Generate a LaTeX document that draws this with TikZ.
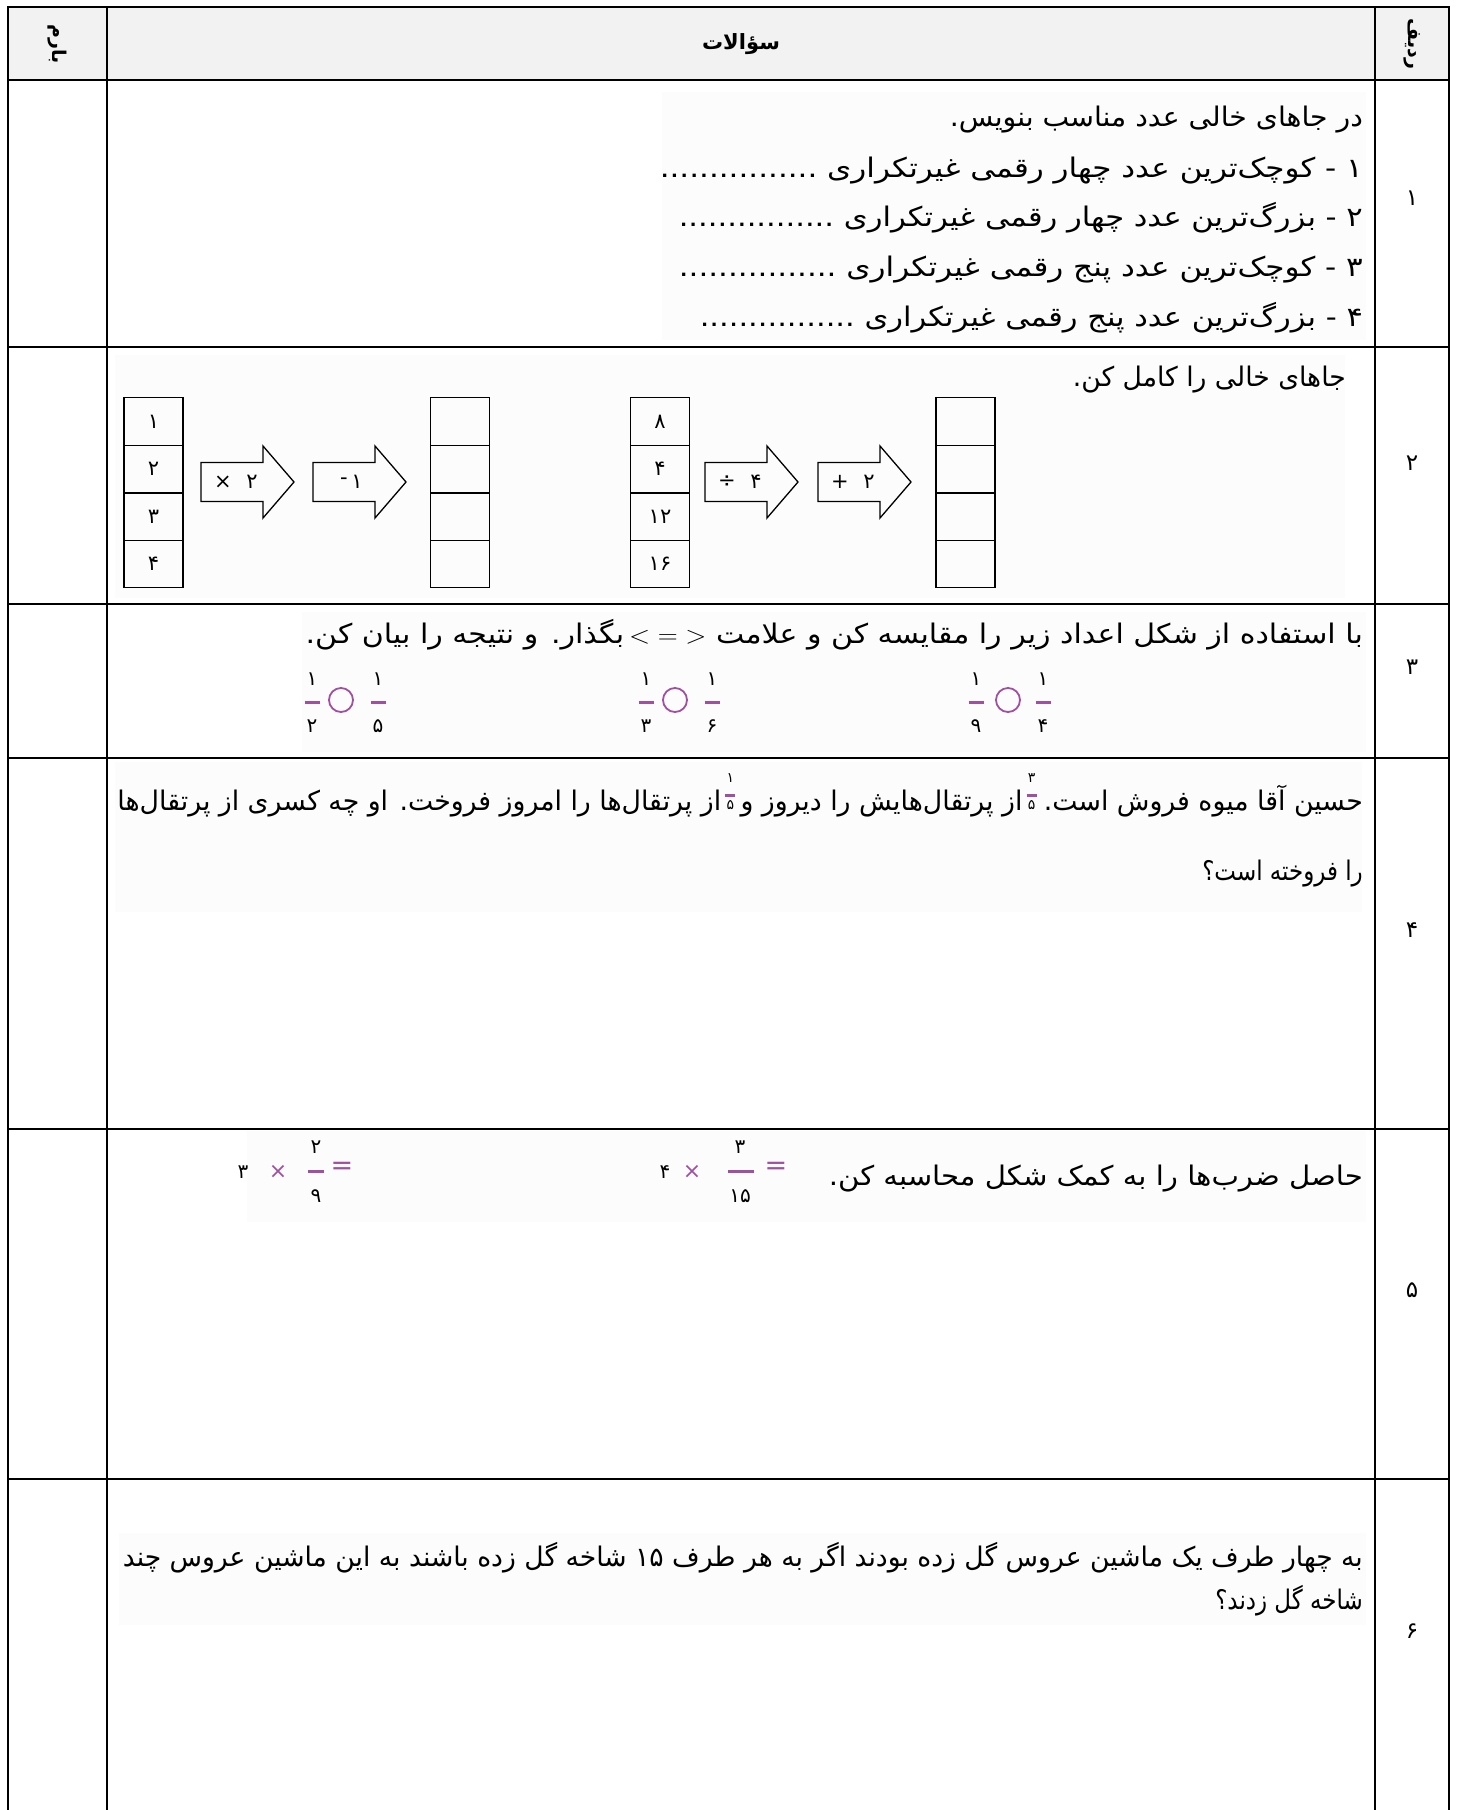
\documentclass[tikz,border=0pt]{standalone}
\usepackage{fontspec}
\usetikzlibrary{calc}
\TeXXeTstate=1
\newfontfamily\fa[Script=Arabic]{DejaVu Sans}
\newfontfamily\fanum[Script=Arabic]{DejaVu Sans}
\definecolor{purp}{RGB}{160,80,160}
\definecolor{hdr}{RGB}{242,242,242}
\definecolor{imgbg}{RGB}{252,252,252}
\newcommand\fitw[2]{\resizebox{#1pt}{\height}{#2}}
\newcommand\qfont{\fa\fontsize{27}{31}\selectfont}
\begin{document}
\begin{tikzpicture}[x=1pt,y=-1pt,
  qtext/.style={anchor=base east, inner sep=0pt, font=\qfont},
  rownum/.style={inner sep=0pt, font=\fanum\fontsize{23}{23}\selectfont},
  hlab/.style={inner sep=0pt, rotate=-90, font=\fanum\bfseries\fontsize{19}{19}\selectfont},
  cellbox/.style={draw, line width=1.4pt, minimum width=59pt, minimum height=47.5pt, inner sep=0pt},
  alab/.style={inner sep=0pt, font=\fanum\fontsize{21}{21}\selectfont},
  fnum/.style={inner sep=0pt, font=\fanum\fontsize{20}{20}\selectfont},
  snum/.style={inner sep=0pt, font=\fanum\fontsize{14}{14}\selectfont},
  pcirc/.style={draw=purp, circle, line width=1.8pt, minimum size=24pt, inner sep=0pt},
  psym/.style={inner sep=0pt, text=purp, font=\fanum\fontsize{22}{22}\selectfont},
  peq/.style={inner sep=0pt, text=purp, font=\fanum\fontsize{27}{27}\selectfont},
  pbar/.style={purp, line width=3pt},
  fatarrow/.pic={\draw[line width=1.3pt, line join=miter] (0,-19.5) -- (62,-19.5) -- (62,-36) -- (93,0) -- (62,36) -- (62,19.5) -- (0,19.5) -- cycle;},
  grid/.style={line width=2.2pt}
]
\useasboundingbox (0,0) rectangle (1459,1810);
\fill[white] (0,0) rectangle (1459,1810);
% header background
\fill[hdr] (8,7) rectangle (1449,80);
% faint image backgrounds
\fill[imgbg] (662,92) rectangle (1366,340);
\fill[imgbg] (115,355) rectangle (1345,598);
\fill[imgbg] (302,612) rectangle (1366,752);
\fill[imgbg] (115,762) rectangle (1362,912);
\fill[imgbg] (247,1131) rectangle (1366,1222);
\fill[imgbg] (119,1533) rectangle (1366,1625);
% grid
\draw[grid] (8,1810) -- (8,7) -- (1449,7) -- (1449,1810);
\draw[grid] (107,7) -- (107,1810);
\draw[grid] (1375,7) -- (1375,1810);
\foreach \yy in {80,347,604,758,1129,1479} \draw[grid] (8,\yy) -- (1449,\yy);
% header
\node[inner sep=0pt, font=\fanum\bfseries\fontsize{21}{21}\selectfont] (hq) at (741,44) {\beginR سؤالات\endR};
\node[hlab] (hb) at (57,44) {\beginR بارم\endR};
\node[hlab] (hr) at (1412,44) {\beginR ردیف\endR};
% row numbers
\node[rownum] (n1) at (1412,198) {۱};
\node[rownum] (n2) at (1412,463) {۲};
\node[rownum] (n3) at (1412,667) {۳};
\node[rownum] (n4) at (1412,930) {۴};
\node[rownum] (n5) at (1412,1290) {۵};
\node[rownum] (n6) at (1412,1631) {۶};
% row 1
\node[qtext] (q1a) at (1363,126) {\fitw{413}{\beginR در جاهای خالی عدد مناسب بنویس.\endR}};
\node[qtext] (q1b) at (1363,177) {\fitw{703}{\beginR ۱ - کوچک‌ترین عدد چهار رقمی غیرتکراری ................\endR}};
\node[qtext] (q1c) at (1363,226) {\fitw{684}{\beginR ۲ - بزرگ‌ترین عدد چهار رقمی غیرتکراری ................\endR}};
\node[qtext] (q1d) at (1363,276) {\fitw{684}{\beginR ۳ - کوچک‌ترین عدد پنج رقمی غیرتکراری ................\endR}};
\node[qtext] (q1e) at (1363,326) {\fitw{663}{\beginR ۴ - بزرگ‌ترین عدد پنج رقمی غیرتکراری ................\endR}};
% row 2
\node[qtext] (q2) at (1346,386) {\fitw{273}{\beginR جاهای خالی را کامل کن.\endR}};
\foreach \cx/\nm in {153.5/a,460/b,660/c,965.5/d}{
  \foreach \cy/\k in {421.5/1,469/2,517/3,564/4}{
    \node[cellbox] (s\nm\k) at (\cx,\cy) {};
  }
}
\node[alab] at (sa1) {۱};
\node[alab] at (sa2) {۲};
\node[alab] at (sa3) {۳};
\node[alab] at (sa4) {۴};
\node[alab] at (sc1) {۸};
\node[alab] at (sc2) {۴};
\node[alab] at (sc3) {۱۲};
\node[alab] at (sc4) {۱۶};
\pic at (201,482) {fatarrow};
\pic at (313,482) {fatarrow};
\pic at (705,482) {fatarrow};
\pic at (818,482) {fatarrow};
\node[alab] (a1a) at (223,482) {×};
\node[alab] (a1b) at (252,482) {۲};
\node[alab] (a2a) at (344,481) {-};
\node[alab] (a2b) at (357,482) {۱};
\node[alab] (a3a) at (727,482) {÷};
\node[alab] (a3b) at (756,482) {۴};
\node[alab] (a4a) at (840,482) {+};
\node[alab] (a4b) at (869,482) {۲};
% row 3
\node[qtext] (q3) at (1363,643) {\fitw{1057}{\beginR با استفاده از شکل اعداد زیر را مقایسه کن و علامت \hbox{$<\;=\;>$}\,بگذار. و نتیجه را بیان کن.\endR}};
\foreach \x/\nn/\dd [count=\i] in {312/۱/۲,378/۱/۵,646/۱/۳,712/۱/۶,976/۱/۹,1043/۱/۴}{
  \node[fnum] (fn\i) at (\x,679) {\nn};
  \draw[pbar] (\x-7.5,702) -- (\x+7.5,702);
  \node[fnum] (fd\i) at (\x,726) {\dd};
}
\node[pcirc] (c1) at (341,700) {};
\node[pcirc] (c2) at (675,700) {};
\node[pcirc] (c3) at (1008,700) {};
% row 4
\node[qtext] (p1) at (1363,810) {\scalebox{0.99}[1]{\beginR حسین آقا میوه فروش است.\endR}};
\coordinate (f1) at ($(p1.base west)+(-12,0)$);
\node[snum] (f1n) at ($(f1)+(0,-32)$) {۳};
\draw[pbar] ($(f1)+(-5,-15)$) -- ($(f1)+(5,-15)$);
\node[snum] (f1d) at ($(f1)+(0,-4.5)$) {۵};
\node[qtext] (p2) at ($(f1)+(-9,0)$) {\scalebox{0.99}[1]{\beginR از پرتقال‌هایش را دیروز و\endR}};
\coordinate (f2) at ($(p2.base west)+(-10,0)$);
\node[snum] (f2n) at ($(f2)+(0,-32)$) {۱};
\draw[pbar] ($(f2)+(-5,-15)$) -- ($(f2)+(5,-15)$);
\node[snum] (f2d) at ($(f2)+(0,-4.5)$) {۵};
\node[qtext] (p3) at ($(f2)+(-9,0)$) {\scalebox{0.99}[1]{\beginR از پرتقال‌ها را امروز فروخت. او چه کسری از پرتقال‌ها\endR}};
\node[qtext] (q4b) at (1363,880) {\scalebox{0.85}[1]{\beginR را فروخته است؟\endR}};
% row 5
\node[qtext] (q5) at (1363,1185) {\fitw{534}{\beginR حاصل ضرب‌ها را به کمک شکل محاسبه کن.\endR}};
\node[fnum] (m1a) at (665,1172) {۴};
\node[psym] (m1b) at (692,1172) {×};
\node[fnum] (m1n) at (740,1147) {۳};
\draw[pbar] (728,1171) -- (754,1171);
\node[fnum] (m1d) at (740,1196) {۱۵};
\node[peq] (m1e) at (776,1168) {=};
\node[fnum] (m2a) at (243,1172) {۳};
\node[psym] (m2b) at (278,1172) {×};
\node[fnum] (m2n) at (316,1147) {۲};
\draw[pbar] (308,1171) -- (324,1171);
\node[fnum] (m2d) at (316,1196) {۹};
\node[peq] (m2e) at (342,1168) {=};
% row 6
\node[qtext] (q6a) at (1363,1566) {\fitw{1240}{\beginR به چهار طرف یک ماشین عروس گل زده بودند اگر به هر طرف ۱۵ شاخه گل زده باشند به این ماشین عروس چند\endR}};
\node[qtext] (q6b) at (1363,1609) {\scalebox{0.85}[1]{\beginR شاخه گل زدند؟\endR}};
\end{tikzpicture}
\end{document}
